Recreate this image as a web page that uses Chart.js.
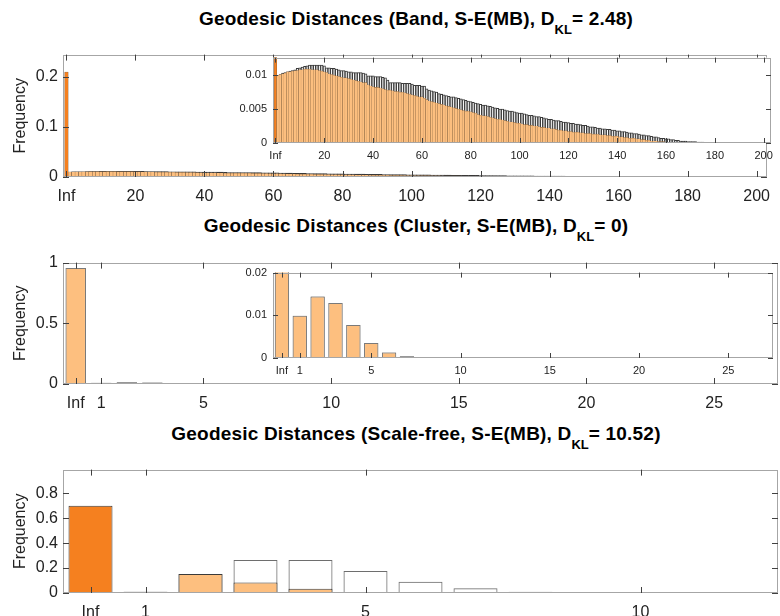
<!DOCTYPE html>
<html>
<head>
<meta charset="utf-8">
<script src="https://cdn.jsdelivr.net/npm/chart.js@4.4.0/dist/chart.umd.min.js"></script>
<style>
  body { margin: 0; width: 780px; height: 616px; position: relative; overflow: hidden; background: #fff;
         font-family: "Liberation Sans", Arial, sans-serif; }
  canvas { position: absolute; }
  .title { position: absolute; left: 116px; width: 600px; text-align: center; font-weight: bold;
           font-size: 19px; letter-spacing: 0.2px; line-height: 20px; color: #000; white-space: nowrap; }
  .title span { position: relative; top: 9px; font-size: 13px; letter-spacing: 0; }
</style>
</head>
<body>
<div class="title" style="top:9px">Geodesic Distances (Band, S-E(MB), D<span>KL</span>= 2.48)</div>
<canvas id="band" width="780" height="165" style="left:0;top:40px"></canvas>
<canvas id="bandZoom" width="570" height="120" style="left:210px;top:45px"></canvas>

<div class="title" style="top:216px">Geodesic Distances (Cluster, S-E(MB), D<span>KL</span>= 0)</div>
<canvas id="cluster" width="780" height="165" style="left:0;top:248px"></canvas>
<canvas id="clusterZoom" width="570" height="120" style="left:210px;top:260px"></canvas>

<div class="title" style="top:424px">Geodesic Distances (Scale-free, S-E(MB), D<span>KL</span>= 10.52)</div>
<canvas id="scalefree" width="780" height="161" style="left:0;top:455px"></canvas>

<script>
// distances, 0 stands for Inf
const bandDist = Array.from({ length: 201 }, (_, i) => i);
const clusterDist = Array.from({ length: 28 }, (_, i) => i);
const scaleFreeDist = Array.from({ length: 13 }, (_, i) => i);

// Band network
const bandData = [
  0.21,
  0.0100, 0.0101, 0.0102, 0.0103, 0.0105, 0.0105, 0.0106, 0.01065, 0.0107, 0.0108,
  0.0108, 0.0109, 0.0109, 0.0109, 0.0108, 0.0108, 0.0108, 0.0107, 0.0106, 0.0105,
  0.0104, 0.0102, 0.0101, 0.0100, 0.0099, 0.0098, 0.0097, 0.0096, 0.0096, 0.0095,
  0.0094, 0.0093, 0.0092, 0.0091, 0.0090, 0.0089, 0.0089, 0.0086, 0.0084, 0.0083,
  0.0082, 0.0082, 0.0081, 0.0080, 0.0079, 0.0078, 0.0078, 0.0077, 0.0076, 0.0076,
  0.0075, 0.0075, 0.0074, 0.0073, 0.0072, 0.0071, 0.0070, 0.0069, 0.0068, 0.0068,
  0.0066, 0.0064, 0.0062, 0.0061, 0.0060, 0.0059, 0.0058, 0.0057, 0.0056, 0.0055,
  0.0054, 0.0053, 0.0052, 0.0051, 0.0050, 0.0049, 0.0048, 0.0047, 0.0047, 0.0046,
  0.0045, 0.0044, 0.0042, 0.0041, 0.0040, 0.0040, 0.0039, 0.0038, 0.0037, 0.0036,
  0.0035, 0.0035, 0.0034, 0.0033, 0.0032, 0.0031, 0.0031, 0.0030, 0.0029, 0.0029,
  0.0028, 0.0027, 0.0027, 0.0026, 0.0026, 0.0025, 0.0025, 0.0024, 0.0023, 0.0023,
  0.0022, 0.0022, 0.0021, 0.0021, 0.0020, 0.0019, 0.0019, 0.0018, 0.0018, 0.0017,
  0.0017, 0.0016, 0.0016, 0.0016, 0.0015, 0.0015, 0.0014, 0.0014, 0.0014, 0.0013,
  0.0013, 0.0013, 0.0012, 0.0012, 0.0012, 0.0011, 0.0011, 0.0010, 0.0010, 0.0010,
  0.0009, 0.0009, 0.0008, 0.0008, 0.0007, 0.0007, 0.0007, 0.0006, 0.0006, 0.0005,
  0.0005, 0.0004, 0.0004, 0.0003, 0.0003, 0.0003, 0.0002, 0.0002, 0.0002, 0.0001,
  0.0001, 0.0001, 0.00005, 0.00003, 0.00002, 0, 0, 0, 0, 0,
  0, 0, 0, 0, 0, 0, 0, 0, 0, 0,
  0, 0, 0, 0, 0, 0, 0, 0, 0, 0,
  0, 0, 0, 0, 0, 0, 0, 0, 0, 0
];
const bandModel = [
  0,
  0.0100, 0.0101, 0.0103, 0.0104, 0.0105, 0.0106, 0.0107, 0.0108, 0.0110, 0.0111,
  0.0112, 0.0113, 0.0114, 0.0115, 0.0115, 0.0115, 0.0115, 0.0115, 0.0115, 0.0114,
  0.0111, 0.0111, 0.0110, 0.0110, 0.0109, 0.0108, 0.0107, 0.0107, 0.0106, 0.0105,
  0.0105, 0.0104, 0.0104, 0.0104, 0.0104, 0.0103, 0.0102, 0.0099, 0.0099, 0.0099,
  0.0098, 0.0098, 0.0098, 0.0097, 0.0096, 0.0093, 0.0089, 0.0089, 0.0089, 0.0089,
  0.0089, 0.0088, 0.0088, 0.0088, 0.0088, 0.0087, 0.0085, 0.0085, 0.0085, 0.0084,
  0.0084, 0.0080, 0.0078, 0.0077, 0.0076, 0.0075, 0.0073, 0.0072, 0.0071, 0.0070,
  0.0069, 0.0068, 0.0068, 0.0067, 0.0066, 0.0065, 0.0064, 0.0063, 0.0062, 0.0061,
  0.0060, 0.0059, 0.0058, 0.0057, 0.0056, 0.0056, 0.0055, 0.0054, 0.0053, 0.0052,
  0.0051, 0.0050, 0.0050, 0.0049, 0.0048, 0.0047, 0.0047, 0.0046, 0.0045, 0.0044,
  0.0044, 0.0043, 0.0042, 0.0041, 0.0041, 0.0040, 0.0039, 0.0039, 0.0038, 0.0037,
  0.0036, 0.0035, 0.0035, 0.0034, 0.0033, 0.0033, 0.0032, 0.0031, 0.0031, 0.0030,
  0.0029, 0.0029, 0.0028, 0.0028, 0.0027, 0.0026, 0.0026, 0.0025, 0.0024, 0.0024,
  0.0023, 0.0022, 0.0022, 0.0021, 0.0021, 0.0020, 0.0020, 0.0019, 0.0019, 0.0018,
  0.0018, 0.0017, 0.0017, 0.0016, 0.0015, 0.0015, 0.0014, 0.0014, 0.0013, 0.0012,
  0.0012, 0.0011, 0.0011, 0.0010, 0.0009, 0.0009, 0.0008, 0.0007, 0.0007, 0.0006,
  0.0006, 0.0005, 0.0005, 0.0004, 0.0004, 0.0003, 0.0003, 0.0003, 0.0002, 0.0002,
  0.0002, 0.0002, 0.00015, 0.00013, 0.00012, 0.0001, 0.0001, 0.00009, 0.00008, 0.00007,
  0.00006, 0.00005, 0.00005, 0.00004, 0.00004, 0.00003, 0.00003, 0.00003, 0.00002, 0.00002,
  0.00002, 0.00002, 0.00001, 0.00001, 0.00001, 0.00001, 0.00001, 0.00001, 0.00001, 0.00001
];

// Cluster network (model identical, D_KL = 0)
const clusterData = [0.955, 0.0099, 0.0144, 0.0129, 0.0077, 0.0035, 0.0013, 0.0004, 0.0001, 0.00003,
  0, 0, 0, 0, 0, 0, 0, 0, 0, 0, 0, 0, 0, 0, 0, 0, 0, 0];
const clusterModel = [0.955, 0.0099, 0.0144, 0.0129, 0.0077, 0.0035, 0.0013, 0.0004, 0.0001, 0.00003,
  0, 0, 0, 0, 0, 0, 0, 0, 0, 0, 0, 0, 0, 0, 0, 0, 0, 0];

// Scale-free network
const scaleFreeData = [0.70, 0.01, 0.152, 0.085, 0.034, 0.008, 0.001, 0, 0, 0, 0, 0, 0];
const scaleFreeModel = [0, 0.01, 0.152, 0.265, 0.265, 0.177, 0.09, 0.038, 0.01, 0.002, 0.0005, 0, 0];

// tick positions
const bandXTicks = [0, 20, 40, 60, 80, 100, 120, 140, 160, 180, 200];
const bandYTicks = [0, 0.1, 0.2];
const bandZoomYTicks = [0, 0.005, 0.01];
const clusterXTicks = [0, 1, 5, 10, 15, 20, 25];
const clusterYTicks = [0, 0.5, 1];
const clusterZoomYTicks = [0, 0.01, 0.02];
const scaleFreeXTicks = [0, 1, 5, 10];
const scaleFreeYTicks = [0, 0.2, 0.4, 0.6, 0.8];

const DARK = '#f5801f';
const LIGHT = '#fdbf7f';
const INK = '#222';
const FONT = '"Liberation Sans", Arial, sans-serif';

// matlab style box with inward ticks
const boxTicks = {
  id: 'boxTicks',
  beforeDraw(chart, args, opts) {
    if (!opts.fill) return;
    const a = chart.chartArea;
    chart.ctx.save();
    chart.ctx.fillStyle = '#fff';
    chart.ctx.fillRect(a.left, a.top, a.right - a.left, a.bottom - a.top);
    chart.ctx.restore();
  },
  afterDraw(chart, args, opts) {
    const { ctx, chartArea: a, scales: { x, y } } = chart;
    const len = opts.len || 6;
    ctx.save();
    ctx.lineWidth = 1;
    ctx.strokeStyle = '#a6a6a6';
    ctx.strokeRect(Math.round(a.left) + 0.5, Math.round(a.top) + 0.5,
      Math.round(a.right - a.left) - 1, Math.round(a.bottom - a.top) - 1);
    ctx.strokeStyle = '#404040';
    ctx.beginPath();
    x.ticks.forEach(t => {
      const px = Math.round(x.getPixelForValue(t.value)) + 0.5;
      ctx.moveTo(px, a.bottom); ctx.lineTo(px, a.bottom - len);
      ctx.moveTo(px, a.top); ctx.lineTo(px, a.top + len);
    });
    y.ticks.forEach(t => {
      const py = Math.round(y.getPixelForValue(t.value)) + 0.5;
      ctx.moveTo(a.left, py); ctx.lineTo(a.left + len, py);
      ctx.moveTo(a.right, py); ctx.lineTo(a.right - len, py);
    });
    ctx.stroke();
    ctx.restore();
  }
};

function drawPanel(id, o) {
  const small = !!o.inset;
  const fs = small ? 11 : 16;
  return new Chart(document.getElementById(id), {
    type: 'bar',
    data: {
      labels: o.dist,
      datasets: [
        {
          // first dataset is painted last, so the filled bars sit on the outlines
          data: o.obs,
          backgroundColor: o.dist.map(d => (d === 0 && o.darkInf) ? DARK : LIGHT),
          borderColor: o.obsEdge,
          borderWidth: o.bw,
          grouped: false,
          barPercentage: o.barW,
          categoryPercentage: 1
        },
        {
          data: o.model,
          backgroundColor: 'rgba(255,255,255,0)',
          borderColor: o.modelEdge,
          borderWidth: o.bw,
          grouped: false,
          barPercentage: o.barW,
          categoryPercentage: 1
        }
      ]
    },
    options: {
      responsive: false,
      animation: false,
      events: [],
      layout: { padding: { top: o.padTop, right: o.padRight, left: 0, bottom: 0 } },
      plugins: {
        legend: { display: false },
        tooltip: { enabled: false },
        boxTicks: { fill: small, len: small ? 5 : 6 }
      },
      scales: {
        x: {
          type: 'linear',
          min: o.xMin,
          max: o.xMax,
          offset: false,
          grid: { display: false, drawTicks: false },
          border: { display: false },
          afterBuildTicks: s => { s.ticks = o.xTicks.map(v => ({ value: v })); },
          afterFit: s => { s.height = o.xH; },
          ticks: {
            autoSkip: false, maxRotation: 0, padding: small ? 6 : 10, color: INK,
            font: { size: fs, family: FONT },
            callback: v => v === 0 ? 'Inf' : String(v)
          }
        },
        y: {
          min: 0,
          max: o.yMax,
          grid: { display: false, drawTicks: false },
          border: { display: false },
          afterBuildTicks: s => { s.ticks = o.yTicks.map(v => ({ value: v })); },
          afterFit: s => { s.width = o.yW; },
          ticks: {
            padding: small ? 6 : 5, color: INK,
            font: { size: fs, family: FONT },
            callback: v => String(v)
          },
          title: {
            display: !small,
            text: 'Frequency',
            color: INK,
            font: { size: 16, family: FONT },
            padding: { top: 11 }
          }
        }
      }
    },
    plugins: [boxTicks]
  });
}

// Band
drawPanel('band', {
  dist: bandDist, obs: bandData, model: bandModel, darkInf: true,
  obsEdge: '#5a4a3a', modelEdge: '#383838', bw: 0.4, barW: 1,
  xMin: -1, xMax: 203, xTicks: bandXTicks, yMax: 0.245, yTicks: bandYTicks,
  padTop: 9, padRight: 3, yW: 63, xH: 28
});
drawPanel('bandZoom', {
  inset: true, dist: bandDist, obs: bandData, model: bandModel, darkInf: true,
  obsEdge: '#7a5a38', modelEdge: '#3a3a3a', bw: 0.35, barW: 1,
  xMin: -1, xMax: 203, xTicks: bandXTicks, yMax: 0.0126, yTicks: bandZoomYTicks,
  padTop: 7, padRight: 9, yW: 63, xH: 22
});

// Cluster
drawPanel('cluster', {
  dist: clusterDist, obs: clusterData, model: clusterModel, darkInf: false,
  obsEdge: '#7a7a7a', modelEdge: '#8c8c8c', bw: 1, barW: 0.8,
  xMin: -0.5, xMax: 27.5, xTicks: clusterXTicks, yMax: 1, yTicks: clusterYTicks,
  padTop: 9, padRight: 2, yW: 63, xH: 29
});
drawPanel('clusterZoom', {
  inset: true, dist: clusterDist, obs: clusterData, model: clusterModel, darkInf: false,
  obsEdge: '#7a7a7a', modelEdge: '#8c8c8c', bw: 1, barW: 0.8,
  xMin: -0.5, xMax: 27.5, xTicks: clusterXTicks, yMax: 0.02, yTicks: clusterZoomYTicks,
  padTop: 7, padRight: 7, yW: 63, xH: 22
});

// Scale-free
drawPanel('scalefree', {
  dist: scaleFreeDist, obs: scaleFreeData, model: scaleFreeModel, darkInf: true,
  obsEdge: '#3a3a3a', modelEdge: '#6e6e6e', bw: 1, barW: 0.8,
  xMin: -0.5, xMax: 12.5, xTicks: scaleFreeXTicks, yMax: 0.99, yTicks: scaleFreeYTicks,
  padTop: 9, padRight: 2, yW: 63, xH: 23
});
</script>
</body>
</html>
